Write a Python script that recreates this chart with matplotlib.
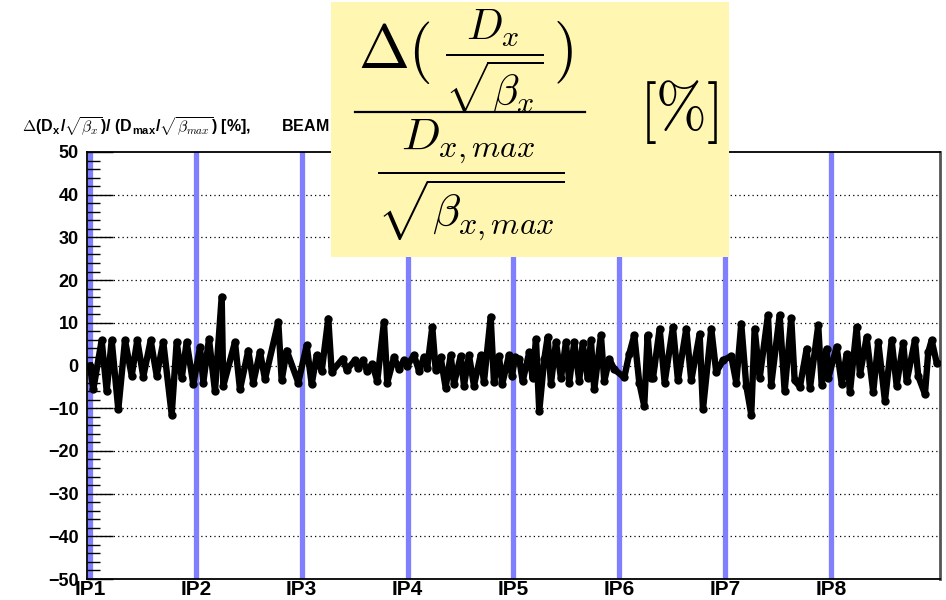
import numpy as np
import matplotlib
matplotlib.use('Agg')
import matplotlib.pyplot as plt
from matplotlib.patches import Rectangle
from matplotlib.lines import Line2D
from matplotlib import font_manager

# position along the ring [km] and Delta(Dx/sqrt(beta_x)) normalised [%]
s_km = [
    0.000, 0.104, 0.368, 0.526, 0.683, 0.891, 1.102, 1.313, 1.489, 1.678,
    1.911, 2.100, 2.307, 2.572, 2.729, 2.887, 3.044, 3.252, 3.463, 3.567,
    3.746, 3.935, 4.146, 4.196, 4.565, 4.722, 4.983, 5.141, 5.352, 5.509,
    5.928, 6.035, 6.192, 6.557, 6.822, 6.979, 7.136, 7.294, 7.502, 7.609,
    7.955, 8.081, 8.342, 8.446, 8.594, 8.720, 8.887, 9.044, 9.255, 9.359,
    9.570, 9.727, 9.885, 9.989, 10.200, 10.357, 10.514, 10.618, 10.776, 10.883,
    11.040, 11.197, 11.355, 11.459, 11.670, 11.774, 11.931, 12.088, 12.299, 12.403,
    12.614, 12.718, 12.875, 12.979, 13.190, 13.285, 13.379, 13.514, 13.621, 13.829,
    13.936, 14.040, 14.144, 14.301, 14.408, 14.512, 14.670, 14.827, 14.984, 15.088,
    15.246, 15.403, 15.510, 15.668, 15.771, 15.875, 16.086, 16.190, 16.348, 16.505,
    16.820, 16.977, 17.135, 17.292, 17.449, 17.556, 17.660, 17.723, 17.934, 18.091,
    18.353, 18.510, 18.772, 18.929, 19.193, 19.297, 19.559, 19.716, 19.927, 20.188,
    20.346, 20.503, 20.660, 20.818, 20.925, 21.082, 21.343, 21.447, 21.712, 21.869,
    22.077, 22.184, 22.351, 22.562, 22.666, 22.927, 23.034, 23.191, 23.242, 23.506,
    23.664, 23.821, 23.925, 24.136, 24.240, 24.450, 24.658, 24.816, 25.027, 25.238,
    25.395, 25.603, 25.710, 25.971, 26.075, 26.286, 26.390, 26.497, 26.654,
]
delta = [
    0.0, -5.6, 5.9, -6.0, 5.9, -10.3, 5.9, -2.4, 5.9, -2.6,
    5.9, -2.4, 5.5, -11.5, 5.5, -3.0, 5.5, -4.4, 4.3, -4.0,
    6.2, -6.0, 16.1, -4.8, 5.5, -5.6, 3.5, -4.0, 3.2, -3.2,
    10.2, -3.5, 3.5, -4.0, 4.7, -4.4, 2.4, -1.4, 11.0, -1.5,
    1.6, -1.0, 1.2, -0.5, 1.2, -1.2, 0.3, -3.6, 10.2, -4.0,
    1.9, -0.8, 1.2, 0.0, 2.4, -1.2, 1.9, -0.5, 9.0, -1.0,
    1.9, -5.2, 2.4, -4.3, 2.2, -4.7, 2.4, -4.7, 2.4, -3.9,
    11.4, -3.9, 2.2, -4.3, 2.4, -2.5, 2.0, 1.5, -3.7, 3.1,
    -3.0, 6.2, -10.7, 1.5, 6.6, -4.3, 5.5, -3.0, 5.5, -4.0,
    5.5, -3.7, 5.2, -3.0, 5.9, -5.6, 7.1, -3.7, 1.5, -0.9,
    -2.8, 2.7, 7.1, -4.0, -9.5, 7.1, -3.0, -3.0, 8.6, -4.0,
    9.0, -3.5, 8.6, -3.5, 7.4, -10.3, 8.6, -1.6, 1.2, 2.2,
    -4.0, 9.8, -4.7, -11.5, 8.6, -3.0, 11.8, -4.5, 11.8, -6.0,
    11.1, -3.5, -5.0, 3.9, -5.3, 9.4, -4.5, 3.9, -3.0, 4.4,
    -4.3, 2.7, -6.2, 9.0, -2.1, 6.6, -6.2, 5.5, -8.3, 5.9,
    -4.7, 5.2, -3.7, 5.9, -2.5, -6.7, 3.1, 5.9, 0.7,
]

ip_labels = ['IP1', 'IP2', 'IP3', 'IP4', 'IP5', 'IP6', 'IP7', 'IP8']
ip_s_km = [0.0, 3.332, 6.665, 9.997, 13.330, 16.662, 19.994, 23.327]

# fonts
names = set(f.name for f in font_manager.fontManager.ttflist)
narrow = 'Liberation Sans Narrow' if 'Liberation Sans Narrow' in names else 'Liberation Sans'
plt.rcParams['font.family'] = ['Liberation Sans', 'DejaVu Sans']
plt.rcParams['mathtext.fontset'] = 'cm'

fig = plt.figure(figsize=(9.46, 6.0), dpi=100)
ax = fig.add_axes([87/946, 1-579/600, 853/946, 427/600])

# IP markers
for s in ip_s_km:
    ax.axvline(s, color='#8080ff', linewidth=3.8, zorder=1)

# horizontal dotted grid
for yv in range(-40, 50, 10):
    ax.axhline(yv, color='black', linewidth=0.9, linestyle=(0, (1, 2.5)), zorder=0)

ax.plot(s_km, delta, color='black', linewidth=4.6, marker='o',
        markersize=5, zorder=3, solid_joinstyle='round')

ax.set_xlim(-0.094, 26.76)
ax.set_ylim(-50, 50)
ax.set_yticks(range(-50, 51, 10))
ax.set_yticks(range(-50, 51, 2), minor=True)
ax.tick_params(axis='y', which='major', direction='in', length=18.4, width=1,
               labelsize=13, pad=6, right=False)
ax.tick_params(axis='y', which='minor', direction='in', length=9.2, width=1,
               right=False)
for lab in ax.get_yticklabels():
    lab.set_fontweight('bold')

ax.set_xticks(ip_s_km)
ax.set_xticklabels(ip_labels, fontsize=15, fontweight='bold', family=narrow)
ax.tick_params(axis='x', which='both', length=0, pad=1)

for sp in ax.spines.values():
    sp.set_linewidth(1.3)
ax.spines['right'].set_color('#555555')
ax.spines['right'].set_linewidth(2)

fig.text(22/946, 1-132/600,
         r'$\Delta$(D$_\mathregular{x}$/$\sqrt{\beta_x}$)/ (D$_\mathregular{max}$/$\sqrt{\beta_{max}}$) [%],       BEAM',
         fontsize=11.5, fontweight='bold', ha='left', va='baseline')

# yellow formula box
fig.add_artist(Rectangle((331/946, 1-257/600), 398/946, 255/600,
                         transform=fig.transFigure, facecolor='#fff6b2',
                         edgecolor='none', zorder=5))
fig.text(358/946, 1-68/600, r'$\Delta($', fontsize=44, ha='left',
         va='baseline', zorder=6)
fig.text(494/946, 1-62/600, r'$\dfrac{D_x}{\sqrt{\beta_x}}$',
         fontsize=31, ha='center', va='center', zorder=6)
fig.text(553/946, 1-68/600, r'$)$', fontsize=44, ha='left',
         va='baseline', zorder=6)
fig.add_artist(Line2D([355/946, 585/946], [1-112/600, 1-112/600],
                      transform=fig.transFigure, color='black',
                      linewidth=1.6, zorder=6))
fig.text(471/946, 1-180/600, r'$\dfrac{D_{x,max}}{\sqrt{\beta_{x,max}}}$',
         fontsize=33, ha='center', va='center', zorder=6)
fig.text(679/946, 1-112/600, r'$[\%]$', fontsize=44, ha='center', va='center',
         zorder=6)

fig.savefig('out.png', dpi=100)
